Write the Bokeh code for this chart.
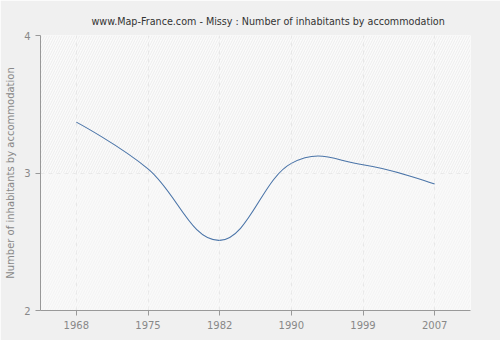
from bokeh.plotting import figure
from bokeh.embed import file_html
from bokeh.resources import INLINE
from bokeh.models import FixedTicker, BoxAnnotation

years = ["1968", "1975", "1982", "1990", "1999", "2007"]
values = [3.37, 3.03, 2.51, 3.07, 3.06, 2.92]
y_ticks = [2, 3, 4]

FONT = "DejaVu Sans"
GREY = "#999999"

xs = list(range(len(years)))

p = figure(width=500, height=340, output_backend="svg", toolbar_location=None,
           x_range=(-0.5, len(years) - 0.5), y_range=(2, 4),
           min_border_left=40, min_border_right=30, min_border_top=35, min_border_bottom=30)

p.title.text = "www.Map-France.com - Missy : Number of inhabitants by accommodation"
p.title.text_font = FONT
p.title.text_font_size = "9.6px"
p.title.text_font_style = "normal"
p.title.text_color = "#333333"
p.title.align = "left"
p.title.offset = 51
p.title.standoff = 17

p.background_fill_color = "#fbfbfb"
p.border_fill_color = "#f0f0f0"
p.outline_line_color = None

# hatched plot background
p.add_layout(BoxAnnotation(bottom=3, top=4, fill_color="#fcfcfc", line_color=None,
                           hatch_pattern="/", hatch_color="#e2e2e2", hatch_scale=5, hatch_weight=0.6,
                           level="underlay"))
p.add_layout(BoxAnnotation(bottom=2, top=3, fill_color="#fafafa", line_color=None,
                           hatch_pattern="/", hatch_color="#efefef", hatch_scale=5, hatch_weight=0.6,
                           level="underlay"))

# grid
p.xgrid.ticker = FixedTicker(ticks=xs)
p.ygrid.ticker = FixedTicker(ticks=y_ticks)
for g in (p.xgrid, p.ygrid):
    g.grid_line_color = "#dddddd"
    g.grid_line_dash = "4 4"
    g.grid_line_width = 1

# axes
p.xaxis.ticker = FixedTicker(ticks=xs)
p.xaxis.major_label_overrides = {i: y for i, y in enumerate(years)}
p.yaxis.ticker = FixedTicker(ticks=y_ticks)
p.yaxis.axis_label = "Number of inhabitants by accommodation"
for ax in (p.xaxis[0], p.yaxis[0]):
    ax.axis_line_color = GREY
    ax.major_tick_line_color = GREY
    ax.major_tick_in = 0
    ax.major_tick_out = 5
    ax.minor_tick_line_color = None
    ax.major_label_text_font = FONT
    ax.major_label_text_font_size = "10px"
    ax.major_label_text_color = "#888888"
    ax.axis_label_text_font = FONT
    ax.axis_label_text_font_size = "10px"
    ax.axis_label_text_color = "#888888"
    ax.axis_label_text_font_style = "normal"

# smooth spline through data (Highcharts-like control points)
n = len(values)
sm = 0.4
x0s, y0s, x1s, y1s, cx0s, cy0s, cx1s, cy1s = [], [], [], [], [], [], [], []
def slope(i):
    if i == 0 or i == n - 1:
        return None
    return (values[i + 1] - values[i - 1]) / (xs[i + 1] - xs[i - 1])
for i in range(n - 1):
    xa, ya, xb, yb = xs[i], values[i], xs[i + 1], values[i + 1]
    dx = xb - xa
    sa, sb = slope(i), slope(i + 1)
    ca = (xa, ya) if sa is None else (xa + sm * dx, ya + sa * sm * dx)
    cb = (xb, yb) if sb is None else (xb - sm * dx, yb - sb * sm * dx)
    x0s.append(xa); y0s.append(ya); x1s.append(xb); y1s.append(yb)
    cx0s.append(ca[0]); cy0s.append(ca[1]); cx1s.append(cb[0]); cy1s.append(cb[1])

p.bezier(x0=x0s, y0=y0s, x1=x1s, y1=y1s, cx0=cx0s, cy0=cy0s, cx1=cx1s, cy1=cy1s,
         line_color="#4a74a8", line_width=1.1)

open("out.html", "w").write(file_html(p, INLINE))
